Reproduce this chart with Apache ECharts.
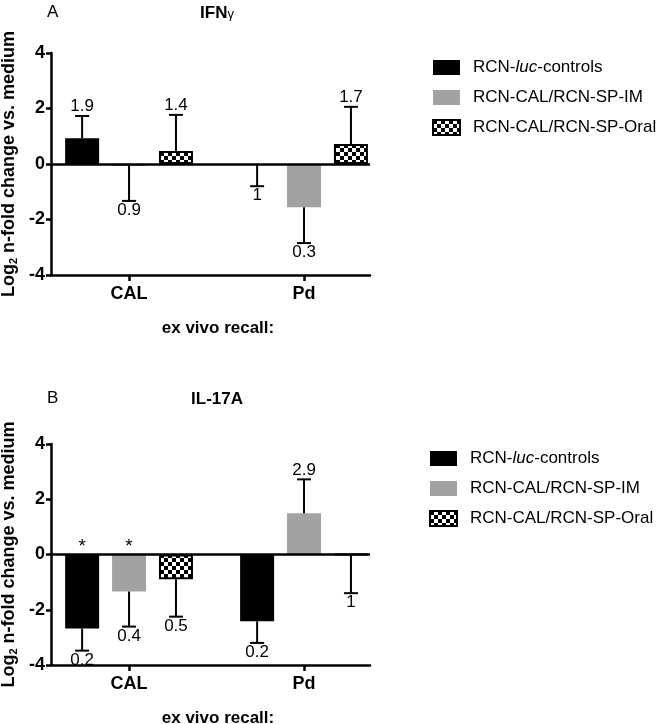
<!DOCTYPE html>
<html>
<head>
<meta charset="utf-8" />
<style>
    html, body { margin: 0; padding: 0; background: #fff; }
    .panel { width: 663px; height: 362px; }
</style>
<script src="https://cdn.jsdelivr.net/npm/echarts@6/dist/echarts.min.js"></script>
</head>
<body>
<div id="chartA" class="panel"></div>
<div id="chartB" class="panel"></div>

<script type="text/javascript">
    // categories and groups
    var categories = ['CAL', 'Pd'];
    var groupNames = ['RCN-luc-controls', 'RCN-CAL/RCN-SP-IM', 'RCN-CAL/RCN-SP-Oral'];

    // IFNγ: bar means, end of the error bar, number printed at the cap
    var ifnLuc = [0.93, 0];
    var ifnIm = [-0.07, -1.56];
    var ifnOral = [0.47, 0.72];
    var ifnLucErr = [1.73, -0.8];
    var ifnImErr = [-1.33, -2.85];
    var ifnOralErr = [1.77, 2.06];
    var ifnLucP = ['1.9', '1'];
    var ifnImP = ['0.9', '0.3'];
    var ifnOralP = ['1.4', '1.7'];

    // IL-17A
    var il17Luc = [-2.68, -2.42];
    var il17Im = [-1.34, 1.49];
    var il17Oral = [-0.9, 0];
    var il17LucErr = [-3.48, -3.2];
    var il17ImErr = [-2.61, 2.72];
    var il17OralErr = [-2.25, -1.4];
    var il17LucP = ['0.2', '0.2'];
    var il17ImP = ['0.4', '2.9'];
    var il17OralP = ['0.5', '1'];
    var il17LucStar = ['*', ''];
    var il17ImStar = ['*', ''];

    var FONT = '"Liberation Sans", Arial, Helvetica, sans-serif';
    var barW = 34;
    var gapRatio = 0.38;
    var grey = '#a2a2a2';

    // checker pattern for the oral group
    function makeChecker() {
        var c = document.createElement('canvas');
        c.width = 8; c.height = 8;
        var ctx = c.getContext('2d');
        ctx.fillStyle = '#fff';
        ctx.fillRect(0, 0, 8, 8);
        ctx.fillStyle = '#000';
        ctx.fillRect(0, 0, 4, 4);
        ctx.fillRect(4, 4, 4, 4);
        return c;
    }
    var checker = { image: makeChecker(), repeat: 'repeat' };

    function pairs(vals) {
        return vals.map(function (v, i) { return [i, v]; });
    }
    function triples(vals, errs) {
        return vals.map(function (v, i) { return [i, v, errs[i]]; });
    }

    // one-sided error bar + number at the cap (+ optional star over zero)
    function errRender(labels, stars, k) {
        return function (params, api) {
            var x = api.value(0), m = api.value(1), e = api.value(2);
            var off = (k - 1) * barW * (1 + gapRatio);
            var p0 = api.coord([x, m]);
            var p1 = api.coord([x, e]);
            var cx = p0[0] + off;
            var up = e > m;
            var kids = [
                { type: 'line', shape: { x1: cx, y1: p0[1], x2: cx, y2: p1[1] }, style: { stroke: '#000', lineWidth: 2 } },
                { type: 'line', shape: { x1: cx - 7, y1: p1[1], x2: cx + 7, y2: p1[1] }, style: { stroke: '#000', lineWidth: 2 } },
                {
                    type: 'text',
                    style: {
                        text: labels[params.dataIndex], x: cx, y: up ? p1[1] - 1 : p1[1] + 1,
                        align: 'center', verticalAlign: up ? 'bottom' : 'top',
                        fontSize: 17, fontFamily: FONT, fill: '#000'
                    }
                }
            ];
            if (stars && stars[params.dataIndex]) {
                var z = api.coord([x, 0]);
                kids.push({
                    type: 'text',
                    style: {
                        text: stars[params.dataIndex], x: cx, y: z[1] + 2,
                        align: 'center', verticalAlign: 'bottom',
                        fontSize: 19, fontFamily: FONT, fill: '#000'
                    }
                });
            }
            return { type: 'group', children: kids };
        };
    }

    function buildChart(domId, cfg) {
        var chart = echarts.init(document.getElementById(domId));
        var colors = ['#000', grey, checker];
        var means = [cfg.luc, cfg.im, cfg.oral];
        var errs = [cfg.lucErr, cfg.imErr, cfg.oralErr];
        var labels = [cfg.lucP, cfg.imP, cfg.oralP];
        var stars = [cfg.lucStar, cfg.imStar, null];

        var series = [];
        for (var k = 0; k < 3; k++) {
            var s = {
                name: groupNames[k],
                type: 'bar',
                barWidth: barW,
                barGap: (gapRatio * 100) + '%',
                data: pairs(means[k]),
                itemStyle: {
                    color: colors[k],
                    borderColor: k === 2 ? '#000' : 'transparent',
                    borderWidth: k === 2 ? 2 : 0
                },
                silent: true
            };
            if (k === 0) {
                s.markLine = {
                    silent: true,
                    symbol: ['none', 'none'],
                    label: { show: false },
                    lineStyle: { color: '#000', width: 2.5, type: 'solid' },
                    data: [{ yAxis: 0 }]
                };
            }
            series.push(s);
        }
        for (var j = 0; j < 3; j++) {
            series.push({
                type: 'custom',
                silent: true,
                data: triples(means[j], errs[j]),
                renderItem: errRender(labels[j], stars[j], j),
                z: 3
            });
        }

        var option = {
            animation: false,
            backgroundColor: '#fff',
            textStyle: { fontFamily: FONT, color: '#000' },
            graphic: [
                {
                    type: 'text', left: 47, top: cfg.titleY - 9,
                    style: { text: cfg.letter, fontSize: 17, fontFamily: FONT, fill: '#000' }
                },
                {
                    type: 'text', x: 217, y: cfg.titleY,
                    style: {
                        text: cfg.title, align: 'center', verticalAlign: 'middle',
                        fontFamily: FONT, fill: '#000',
                        rich: {
                            b: { fontSize: 17, fontWeight: 'bold', fontFamily: FONT },
                            g: { fontSize: 13, fontFamily: FONT, padding: [3, 0, 0, 0] }
                        }
                    }
                }
            ],
            legend: {
                orient: 'vertical',
                left: cfg.legendLeft,
                top: cfg.legendTop,
                padding: 0,
                icon: 'rect',
                itemWidth: 27,
                itemHeight: 15,
                itemGap: 13,
                selectedMode: false,
                data: groupNames,
                formatter: function (name) {
                    if (name === groupNames[0]) {
                        return '{n|RCN-}{i|luc}{n|-controls}';
                    }
                    return '{n|' + name + '}';
                },
                textStyle: {
                    padding: [0, 0, 0, 8],
                    rich: {
                        n: { fontSize: 17, fontFamily: FONT, color: '#000', lineHeight: 18 },
                        i: { fontSize: 17, fontFamily: FONT, color: '#000', fontStyle: 'italic', lineHeight: 18 }
                    }
                }
            },
            grid: {
                left: 51, top: cfg.gridTop, width: 319, height: cfg.gridH,
                containLabel: false, outerBoundsMode: 'none'
            },
            xAxis: {
                type: 'value',
                min: -0.446,
                max: 1.377,
                z: 5,
                axisLine: { onZero: false, lineStyle: { color: '#000', width: 2.5 } },
                axisTick: { show: true, customValues: [0, 1], length: 6, lineStyle: { color: '#000', width: 2.5 } },
                axisLabel: {
                    customValues: [0, 1],
                    formatter: function (v) { return categories[Math.round(v)]; },
                    fontSize: 18, fontWeight: 'bold', fontFamily: FONT, color: '#000', margin: 10
                },
                splitLine: { show: false },
                name: 'ex vivo recall:',
                nameLocation: 'middle',
                nameGap: 45,
                nameTextStyle: { fontSize: 17, fontWeight: 'bold', fontFamily: FONT, color: '#000', padding: [0, 0, 0, 15] }
            },
            yAxis: {
                type: 'value',
                min: -4,
                max: 4,
                interval: 2,
                axisLine: { show: true, onZero: false, lineStyle: { color: '#000', width: 2.5 } },
                axisTick: { show: true, length: 5, lineStyle: { color: '#000', width: 2.5 } },
                axisLabel: { fontSize: 18, fontWeight: 'bold', fontFamily: FONT, color: '#000', margin: 6 },
                splitLine: { show: false },
                name: '{b|Log}{s|2}{b| n-fold change vs. medium}',
                nameLocation: 'middle',
                nameGap: 32,
                nameTextStyle: {
                    rich: {
                        b: { fontSize: 18, fontWeight: 'bold', fontFamily: FONT, color: '#000', lineHeight: 20 },
                        s: { fontSize: 11, fontWeight: 'bold', fontFamily: FONT, color: '#000', lineHeight: 11, verticalAlign: 'bottom' }
                    }
                }
            },
            series: series
        };
        chart.setOption(option);
        return chart;
    }

    buildChart('chartA', {
        letter: 'A', title: '{b|IFN}{g|γ}', titleY: 13,
        gridTop: 53, gridH: 222, legendLeft: 432, legendTop: 59,
        luc: ifnLuc, im: ifnIm, oral: ifnOral,
        lucErr: ifnLucErr, imErr: ifnImErr, oralErr: ifnOralErr,
        lucP: ifnLucP, imP: ifnImP, oralP: ifnOralP,
        lucStar: null, imStar: null
    });

    buildChart('chartB', {
        letter: 'B', title: '{b|IL-17A}', titleY: 37,
        gridTop: 82, gridH: 221, legendLeft: 429, legendTop: 88,
        luc: il17Luc, im: il17Im, oral: il17Oral,
        lucErr: il17LucErr, imErr: il17ImErr, oralErr: il17OralErr,
        lucP: il17LucP, imP: il17ImP, oralP: il17OralP,
        lucStar: il17LucStar, imStar: il17ImStar
    });
</script>
</body>
</html>
